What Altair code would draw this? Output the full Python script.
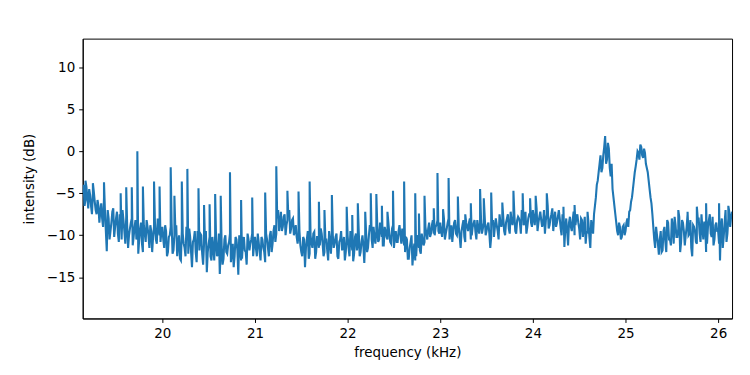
import altair as alt
import pandas as pd

# sampled spectrum (dB), 0.02 kHz steps, one list per segment
seg_start = [19.14, 20.00, 21.00, 22.00, 23.00, 24.00, 25.00, 26.00]
seg_19 = [-5.0, -6.5, -4.2, -6.8, -5.2, -7.5, -4.8, -7.0, -5.8, -8.5, -6.2, -9.0, -7.0, -11.9,
          -8.0, -9.5, -7.2, -10.2, -8.0, -9.8, -7.5, -10.5, -8.2, -11.0, -8.8, -10.0, -8.5, -11.2,
          -9.0, -10.5, -12.2, -9.2, -11.0, -8.8, -10.8, -9.0, -11.5, -9.5, -10.2, -8.5, -11.0, -9.2, -10.8]
seg_20 = [-9.0, -11.5, -9.5, -12.0, -10.0, -8.5, -11.8, -9.2, -12.5, -10.0, -13.0, -9.8, -11.5, -9.0,
          -12.2, -10.2, -13.8, -10.5, -12.0, -9.5, -11.8, -10.0, -13.5, -10.8, -14.4, -11.0, -12.5, -10.2,
          -13.0, -10.5, -12.0, -14.6, -11.2, -12.8, -10.0, -12.2, -10.8, -13.2, -11.0, -12.5, -10.5, -14.7,
          -11.5, -12.8, -10.2, -12.0, -9.8, -11.8, -10.5, -12.5]
seg_21 = [-10.2, -12.5, -10.8, -13.0, -10.5, -12.0, -9.8, -11.5, -10.0, -12.0, -9.5, -10.8, -8.0, -9.5,
          -7.2, -9.0, -7.5, -8.8, -7.8, -9.8, -8.2, -10.0, -8.8, -11.0, -9.5, -12.0, -10.2, -13.8,
          -10.5, -12.8, -10.0, -11.5, -9.6, -12.0, -10.2, -11.2, -9.8, -12.5, -10.5, -11.8, -9.5, -12.2,
          -10.0, -11.0, -9.8, -12.8, -10.5, -11.8, -10.2, -12.0]
seg_22 = [-10.0, -12.5, -10.5, -13.1, -10.2, -11.8, -9.5, -12.0, -10.0, -13.3, -9.8, -11.5, -8.8, -10.5,
          -9.0, -11.0, -8.8, -10.5, -9.2, -11.2, -9.0, -10.2, -8.5, -10.8, -9.2, -11.5, -9.5, -10.8,
          -8.8, -11.0, -10.2, -12.0, -10.5, -12.8, -10.8, -13.6, -11.0, -12.5, -10.0, -11.8, -9.8, -11.2,
          -9.0, -10.5, -8.5, -9.8, -8.2, -10.0, -8.8, -9.5]
seg_23 = [-8.5, -10.2, -8.0, -9.8, -8.5, -10.5, -8.8, -9.5, -8.2, -10.0, -9.0, -11.5, -8.8, -10.2,
          -8.5, -9.5, -8.0, -10.0, -8.6, -9.6, -8.2, -9.8, -8.0, -9.2, -7.8, -9.5, -8.5, -11.5,
          -8.8, -10.2, -8.0, -9.5, -7.5, -9.0, -7.8, -10.0, -8.0, -9.2, -7.2, -8.8, -7.5, -9.8,
          -7.8, -8.5, -7.0, -8.8, -7.2, -9.0, -7.5, -8.5]
seg_24 = [-7.0, -8.8, -6.8, -8.5, -7.2, -9.0, -7.0, -8.2, -6.5, -8.8, -7.5, -9.5, -7.2, -8.5,
          -7.0, -9.2, -7.5, -11.4, -8.0, -11.2, -7.8, -9.5, -7.2, -8.8, -7.5, -9.2, -8.0, -10.2,
          -7.8, -9.5, -8.5, -11.5, -9.0, -7.5, -5.5, -3.5, -1.5, -2.5, -0.5, 1.8, -1.0, 0.3,
          -3.0, -4.5, -6.5, -8.5, -10.0, -9.0, -10.2, -8.8]
seg_25 = [-9.5, -8.0, -7.2, -6.0, -4.5, -2.5, -1.0, -0.2, 0.8, -0.5, 0.3, -1.5, -2.5, -4.5,
          -6.2, -9.0, -11.5, -10.0, -12.3, -9.5, -11.8, -9.0, -12.0, -8.5, -10.5, -8.0, -11.0, -8.8,
          -10.2, -7.8, -10.8, -8.5, -11.2, -9.0, -10.0, -8.2, -12.5, -9.0, -10.8, -8.0, -9.8, -7.5,
          -10.5, -8.5, -11.0, -8.2, -9.8, -7.8, -10.5, -8.5]
seg_26 = [-9.5, -13.0, -8.0, -10.2, -7.0, -9.8, -7.2, -7.8]

# interleaved samples, offset by 0.01 kHz from the segment starts
mid_19 = [-4.0, -5.8, -5.5, -4.5, -6.5, -5.0, -6.0, -7.5, -6.5, -7.2,
          -8.0, -5.5, -9.5, -7.0, -10.5, -8.5, -6.8, -9.0, -7.2, -10.8,
          -8.8, -7.0, -9.5, -7.8, -11.5, -9.2, -8.0, -10.2, -8.2, -9.8,
          -10.5, -8.5, -12.0, -9.8, -8.2, -10.0, -8.8, -12.0, -9.0, -10.5,
          -8.0, -10.0, -9.5]
mid_20 = [-10.5, -8.8, -12.5, -10.2, -9.0, -12.2, -10.0, -8.8, -11.0, -12.8,
          -9.5, -11.0, -12.5, -10.2, -9.2, -12.0, -10.8, -9.5, -13.2, -10.5,
          -9.8, -12.2, -11.0, -9.5, -12.0, -10.2, -13.0, -11.5, -10.0, -12.5,
          -9.8, -11.8, -13.5, -10.5, -12.0, -11.2, -9.8, -12.0, -13.8, -10.2,
          -11.8, -10.0, -13.0, -10.8, -11.8, -13.5, -10.5, -11.0, -9.8, -11.2]
mid_21 = [-11.5, -9.8, -12.0, -10.2, -11.5, -13.2, -10.5, -12.5, -9.5, -11.0,
          -8.8, -9.8, -7.0, -8.5, -9.5, -7.8, -10.0, -8.2, -7.0, -9.2, -8.0, -9.5, -10.2,
          -10.0, -11.2, -12.5, -10.5, -11.5, -9.5, -12.2, -11.0, -9.8, -12.8, -10.2, -11.5, -9.2,
          -11.0, -12.0, -10.5, -13.0, -10.8, -9.5, -11.5, -10.2, -12.5, -10.8, -9.5, -11.2, -13.0, -10.0]
mid_22 = [-11.5, -9.5, -11.8, -12.2, -9.8, -11.0, -12.5, -10.8, -11.2, -10.5, -12.0, -10.0, -9.5, -11.5, -10.2,
          -9.5, -10.8, -8.5, -10.2, -11.2, -9.5, -10.5, -9.8, -11.0, -8.8, -10.2, -10.8, -9.5, -10.0, -9.2,
          -11.2, -10.2, -12.8, -11.5, -10.0, -12.0, -13.0, -10.5, -11.5, -12.2, -10.5, -10.8, -9.8,
          -9.2, -10.2, -8.8, -9.8, -9.0, -8.2, -9.8]
mid_23 = [-9.5, -8.8, -10.5, -9.2, -8.0, -9.5, -10.8, -8.5, -9.8, -8.5,
          -10.2, -9.5, -8.2, -10.8, -9.0, -8.5, -10.5, -9.0, -8.2, -10.5,
          -9.0, -8.5, -9.8, -8.5, -10.0, -8.8, -9.8, -10.2, -8.2, -9.0,
          -8.8, -10.5, -8.5, -8.2, -9.5, -8.5, -7.5, -9.8, -8.2, -7.8,
          -9.5, -8.2, -8.0, -9.8, -7.8, -8.5, -9.8, -8.0, -7.5, -9.0]
mid_24 = [-8.0, -7.2, -9.5, -7.8, -8.2, -8.5, -9.8, -7.5, -9.2, -8.0,
          -6.8, -8.2, -9.0, -7.8, -8.0, -10.0, -8.5, -9.2, -9.5, -8.5,
          -9.0, -8.2, -10.0, -7.8, -8.5, -10.5, -8.2, -9.0, -11.0, -9.8,
          -10.2, -8.2, -9.8, -6.5, -4.0, -2.5, -0.5, -2.0, 0.5, -1.5,
          1.0, -2.0, -1.5, -5.5, -7.5, -9.5, -8.5, -10.5, -9.0, -10.0]
mid_25 = [-8.5, -9.0, -7.0, -5.5, -3.5, -1.8, 0.0, -1.0, 0.5, -0.8,
          -0.2, -2.0, -3.5, -5.5, -7.5, -10.5, -9.0, -11.0, -10.5, -12.0,
          -9.5, -10.8, -8.2, -10.5, -11.2, -9.0, -7.8, -10.2, -9.2, -12.0,
          -8.2, -9.5, -10.0, -7.5, -9.8, -11.5, -8.8, -9.5, -11.0, -8.0,
          -10.8, -9.2, -8.5, -12.0, -9.0, -7.5, -10.2, -11.2, -8.8, -9.5]
mid_26 = [-11.0, -9.0, -11.5, -8.5, -10.8, -8.0, -9.0, -7.2]

# narrow spikes (frequency kHz, intensity dB)
spike_freq = [19.17, 19.25, 19.37, 19.55, 19.61, 19.67, 19.73, 19.79, 19.91, 19.97,
              20.09, 20.13, 20.21, 20.27, 20.39, 20.45, 20.51, 20.57, 20.63, 20.73,
              20.85, 20.97, 21.11, 21.23, 21.35, 21.47, 21.59, 21.69, 21.75, 21.83,
              21.99, 22.05, 22.11, 22.19, 22.25, 22.31, 22.37, 22.43, 22.49, 22.61,
              22.73, 22.77, 22.83, 22.93, 22.97, 23.03, 23.09, 23.19, 23.27, 23.33,
              23.43, 23.47, 23.55, 23.67, 23.79, 23.89, 23.97, 24.03, 24.15, 24.33,
              24.45, 24.59, 25.57, 25.67, 25.77, 25.87, 26.01, 26.11]
spike_val = [-3.5, -3.8, -3.7, -5.0, -4.3, -4.3, 0.0, -4.2, -3.6, -4.2,
             -1.9, -5.3, -3.6, -2.1, -4.4, -6.4, -6.3, -5.1, -5.3, -2.5,
             -5.8, -5.5, -4.9, -1.8, -4.7, -4.8, -3.6, -6.0, -7.0, -5.2,
             -6.6, -7.6, -6.2, -7.2, -5.0, -5.1, -6.5, -7.2, -4.7, -3.6,
             -5.0, -7.4, -5.3, -6.8, -2.6, -6.9, -3.2, -5.4, -7.5, -6.2,
             -4.5, -5.6, -4.9, -6.1, -4.7, -5.0, -5.6, -5.3, -5.0, -6.6,
             -6.4, -7.2, -7.0, -7.2, -6.6, -6.2, -6.2, -6.5]

x_ticks = [20, 21, 22, 23, 24, 25, 26]
y_ticks = [-15, -10, -5, 0, 5, 10]

segments = [seg_19, seg_20, seg_21, seg_22, seg_23, seg_24, seg_25, seg_26]
mids = [mid_19, mid_20, mid_21, mid_22, mid_23, mid_24, mid_25, mid_26]
freq, val = [], []
for start, seg, mid in zip(seg_start, segments, mids):
    for i, v in enumerate(seg):
        freq.append(round(start + 0.02 * i, 4))
        val.append(v)
    for i, v in enumerate(mid):
        freq.append(round(start + 0.01 + 0.02 * i, 4))
        val.append(v)
freq += spike_freq
val += spike_val
df = pd.DataFrame({"f": freq, "v": val}).sort_values("f", kind="stable")

axis_common = dict(
    domainColor="black", tickColor="black", labelColor="black", titleColor="black",
    labelFont="DejaVu Sans", titleFont="DejaVu Sans", labelFontSize=13.5, titleFontSize=13.5,
    titleFontWeight="normal", tickSize=4, grid=False, domainWidth=1, tickWidth=1,
)

chart = alt.Chart(df).mark_line(color="#1f77b4", strokeWidth=2.1, clip=True).encode(
    x=alt.X("f:Q", title="frequency (kHz)",
            scale=alt.Scale(domain=[19.14, 26.15], nice=False, zero=False),
            axis=alt.Axis(values=x_ticks, labelPadding=4, titlePadding=6, **axis_common)),
    y=alt.Y("v:Q", title="intensity (dB)",
            scale=alt.Scale(domain=[-19.9, 13.4], nice=False, zero=False),
            axis=alt.Axis(values=y_ticks, labelPadding=4, titlePadding=10, **axis_common)),
).properties(
    width=652, height=281,
    autosize=alt.AutoSizeParams(type="none"),
    padding={"left": 75, "top": 30, "right": 10, "bottom": 50},
).configure_view(stroke="black", strokeWidth=1)

chart.save("out.html", embed_options={"renderer": "svg", "actions": False})
